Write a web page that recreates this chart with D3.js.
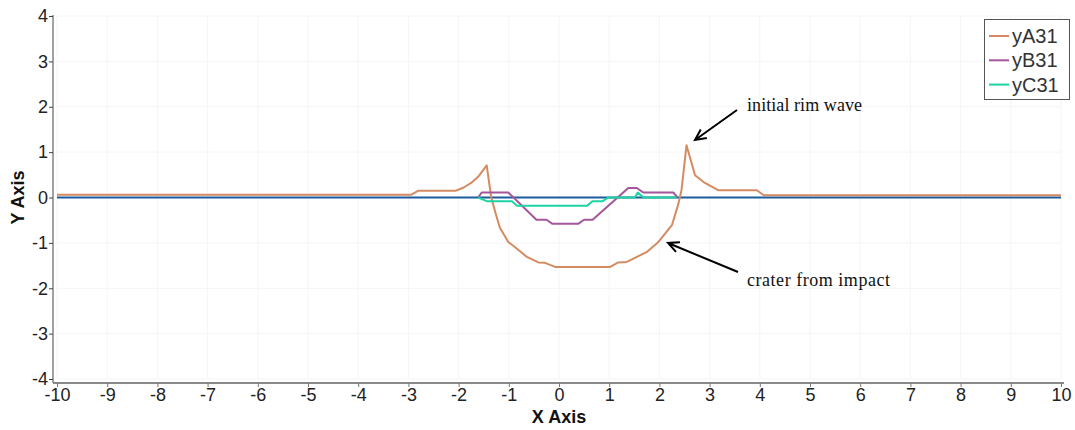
<!DOCTYPE html>
<html>
<head>
<meta charset="utf-8">
<script src="https://cdn.jsdelivr.net/npm/d3@7"></script>
<style>
  body { margin: 0; background: #fff; }
  svg { display: block; font-family: "Liberation Sans", Arial, sans-serif; }
</style>
</head>
<body>
<script>
// values
const xA = [-10, -2.95, -2.8, -2.05, -1.9, -1.75, -1.6, -1.44, -1.35, -1.27, -1.18, -1.01, -0.88, -0.64, -0.41, -0.28, -0.08, 1.02, 1.18, 1.35, 1.75, 1.98, 2.25, 2.38, 2.44, 2.54, 2.71, 2.88, 3.17, 3.94, 4.08, 10];
const yA31 = [0.06, 0.06, 0.15, 0.15, 0.22, 0.32, 0.47, 0.71, 0.0, -0.32, -0.66, -0.98, -1.09, -1.31, -1.43, -1.44, -1.53, -1.53, -1.43, -1.42, -1.2, -0.98, -0.61, -0.13, 0.16, 1.15, 0.49, 0.34, 0.16, 0.16, 0.05, 0.05];

const xB = [-1.61, -1.54, -1.01, -0.45, -0.25, -0.13, 0.38, 0.5, 0.67, 1.38, 1.55, 1.68, 2.28, 2.36];
const yB31 = [0, 0.11, 0.11, -0.49, -0.49, -0.58, -0.58, -0.49, -0.49, 0.21, 0.21, 0.11, 0.11, 0];

const xC = [-1.61, -1.44, -0.94, -0.84, 0.56, 0.67, 0.87, 0.98, 1.51, 1.57, 1.68, 2.34];
const yC31 = [0, -0.08, -0.08, -0.18, -0.18, -0.08, -0.08, 0, 0, 0.11, 0, 0];

const xBase = [-10, 10];
const yBase = [0, 0];

const xTicks = d3.range(-10, 11, 1);
const yTicks = d3.range(-4, 5, 1);

const seriesNames = ["yA31", "yB31", "yC31"];
const seriesColors = ["#d58b61", "#a4559b", "#1dd3a2"];

document.addEventListener("DOMContentLoaded", function () {
    const width = 1075, height = 430;
    const left = 57, right = 1061, top = 16, bottom = 379;

    const svg = d3.select("body")
        .append("svg")
        .attr("width", width)
        .attr("height", height);

    const x = d3.scaleLinear().domain([-10, 10]).range([left, right]);
    const y = d3.scaleLinear().domain([-4, 4]).range([bottom, top]);

    // faint grid
    svg.append("g")
        .selectAll("line")
        .data(xTicks)
        .enter()
        .append("line")
        .attr("x1", d => x(d)).attr("x2", d => x(d))
        .attr("y1", top).attr("y2", bottom)
        .attr("stroke", "#f5f5f5");
    svg.append("g")
        .selectAll("line")
        .data(yTicks)
        .enter()
        .append("line")
        .attr("x1", left).attr("x2", right)
        .attr("y1", d => y(d)).attr("y2", d => y(d))
        .attr("stroke", "#f5f5f5");

    // axes, sitting just outside the data area
    const xAxis = svg.append("g")
        .attr("transform", `translate(0,${bottom + 4})`)
        .call(d3.axisBottom(x).tickValues(xTicks).tickSize(4).tickPadding(1).tickFormat(d => String(d)));
    xAxis.select(".domain").attr("stroke", "#8a8a8a").attr("stroke-width", 2)
        .attr("d", `M${left - 4},0H${right + 3}`);
    xAxis.selectAll(".tick line").attr("stroke", "#777");
    xAxis.selectAll("text").attr("font-size", 18).attr("fill", "#222");

    const yAxis = svg.append("g")
        .attr("transform", `translate(${left - 4},0)`)
        .call(d3.axisLeft(y).tickValues(yTicks).tickSize(4).tickPadding(1).tickFormat(d => String(d)));
    yAxis.select(".domain").attr("stroke", "#444").attr("stroke-width", 1)
        .attr("d", `M0,${top - 1}V${bottom + 4}`);
    yAxis.selectAll(".tick line").attr("stroke", "#444");
    yAxis.selectAll("text").attr("font-size", 18).attr("fill", "#222");

    svg.append("text")
        .attr("x", x(0))
        .attr("y", 423)
        .attr("text-anchor", "middle")
        .attr("font-size", 18)
        .attr("font-weight", "bold")
        .attr("fill", "#111")
        .text("X Axis");

    svg.append("text")
        .attr("transform", `translate(24,${y(0)}) rotate(-90)`)
        .attr("text-anchor", "middle")
        .attr("font-size", 18)
        .attr("font-weight", "bold")
        .attr("fill", "#111")
        .text("Y Axis");

    const line = d3.line().x(d => x(d[0])).y(d => y(d[1]));
    const zip = (xs, ys) => xs.map((v, i) => [v, ys[i]]);

    svg.append("path")
        .datum(zip(xBase, yBase))
        .attr("d", line)
        .attr("fill", "none")
        .attr("stroke", "#1b5b9e")
        .attr("stroke-width", 2);

    [zip(xA, yA31), zip(xB, yB31), zip(xC, yC31)].forEach((pts, i) => {
        svg.append("path")
            .datum(pts)
            .attr("d", line)
            .attr("fill", "none")
            .attr("stroke", seriesColors[i])
            .attr("stroke-width", 2)
            .attr("stroke-linejoin", "round");
    });

    // legend
    const legend = svg.append("g");
    legend.append("rect")
        .attr("x", 984.5).attr("y", 19.5)
        .attr("width", 85).attr("height", 80)
        .attr("fill", "#fff")
        .attr("stroke", "#555");
    const item = legend.selectAll(".legend-item")
        .data(seriesNames)
        .enter()
        .append("g")
        .attr("class", "legend-item")
        .attr("transform", (d, i) => `translate(989,${36 + i * 24.3})`);
    item.append("line")
        .attr("x1", 0).attr("x2", 20)
        .attr("stroke", (d, i) => seriesColors[i])
        .attr("stroke-width", 2);
    item.append("text")
        .attr("x", 23)
        .attr("dy", "0.35em")
        .attr("font-size", 20)
        .attr("fill", "#333")
        .text(d => d);

    // annotations
    const notes = [
        { text: "initial rim wave", tx: 747, ty: 111, len: 115, from: [737, 110], to: [695, 140] },
        { text: "crater from impact", tx: 747, ty: 286, len: 143, from: [738, 272], to: [668, 243] }
    ];
    const note = svg.append("g").selectAll("g").data(notes).enter().append("g");
    note.append("text")
        .attr("x", d => d.tx)
        .attr("y", d => d.ty)
        .attr("font-family", "'Liberation Serif', 'Times New Roman', serif")
        .attr("font-size", 18)
        .attr("textLength", d => d.len)
        .attr("fill", "#111")
        .text(d => d.text);
    note.append("path")
        .attr("d", d => {
            const [x1, y1] = d.from, [x2, y2] = d.to;
            const a = Math.atan2(y1 - y2, x1 - x2), h = 12, s = 0.45;
            const p1 = [x2 + h * Math.cos(a + s), y2 + h * Math.sin(a + s)];
            const p2 = [x2 + h * Math.cos(a - s), y2 + h * Math.sin(a - s)];
            return `M${x1},${y1}L${x2},${y2}M${p1}L${x2},${y2}L${p2}`;
        })
        .attr("fill", "none")
        .attr("stroke", "#000")
        .attr("stroke-width", 2);
});
</script>
</body>
</html>
